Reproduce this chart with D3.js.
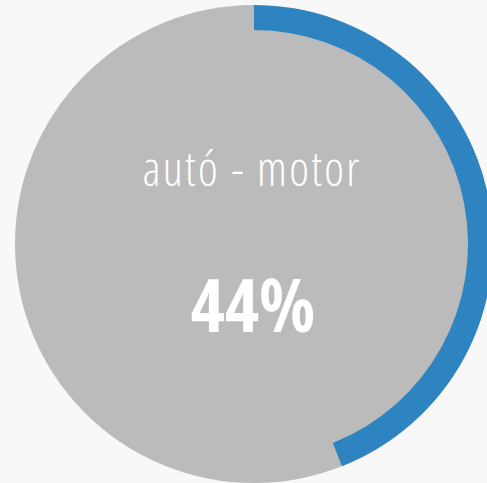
<!DOCTYPE html>
<html><head><meta charset="utf-8">
<script src="https://cdn.jsdelivr.net/npm/d3@7"></script>
<style>html,body{margin:0;padding:0;background:#f8f8f8;overflow:hidden}</style>
</head><body>
<script>
const label = "autó - motor";
const value = 0.44;
const valueText = "44%";

const W = 487, H = 483;
const svg = d3.select("body").append("svg").attr("width", W).attr("height", H);
const cx = 254, cy = 244, R = 239, r = 214;
const g = svg.append("g").attr("transform", `translate(${cx},${cy})`);
const scale = d3.scaleLinear().domain([0, 1]).range([0, 2 * Math.PI]);

g.append("circle").attr("r", R).attr("fill", "#bbbbbb");
g.append("path")
  .attr("d", d3.arc().innerRadius(r).outerRadius(R).startAngle(0).endAngle(scale(value))())
  .attr("fill", "#2e83c1");

g.append("text").text(label)
  .attr("x", -2).attr("y", -58)
  .attr("text-anchor", "middle")
  .attr("fill", "#ffffff")
  .style("font-family", "'Open Sans', sans-serif")
  .style("font-stretch", "75%")
  .style("font-weight", 350)
  .style("font-size", "47px")
  .style("letter-spacing", "2.3px");

g.append("text").text(valueText)
  .attr("x", -1).attr("y", 88)
  .attr("text-anchor", "middle")
  .attr("fill", "#ffffff")
  .style("font-family", "'Open Sans', sans-serif")
  .style("font-stretch", "75%")
  .style("font-weight", 700)
  .style("font-size", "73px");
</script>
</body></html>
